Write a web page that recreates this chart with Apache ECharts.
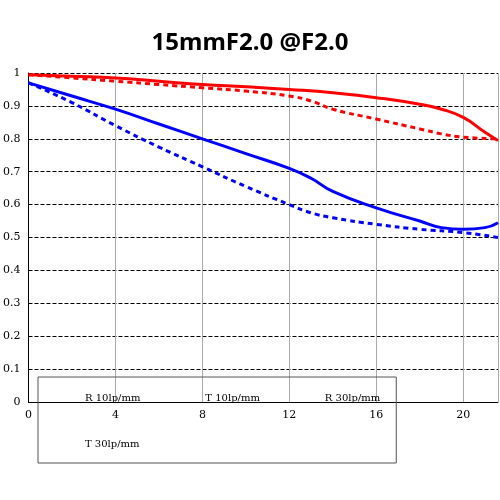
<!DOCTYPE html>
<html><head><meta charset="utf-8">
<script src="https://cdn.jsdelivr.net/npm/echarts@6/dist/echarts.min.js"></script>
<style>html,body{margin:0;padding:0;background:#fff}#c{width:500px;height:500px}</style>
</head><body><div id="c"></div>
<script>
const xR10 = [0,2,4,6,8,10,12,13,14,16,18,19,20,21.6];
const R10 = [0.995,0.985,0.975,0.965,0.955,0.945,0.93,0.915,0.89,0.86,0.83,0.815,0.805,0.80];
const xT10 = [0,2,4,6,8,10,12,14,16,18,19,20,21,21.6];
const T10 = [0.995,0.99,0.985,0.975,0.965,0.958,0.95,0.94,0.925,0.905,0.89,0.865,0.82,0.795];
const xR30 = [0,2,4,6,8,10,12,13,14,16,18,20,21.6];
const R30 = [0.97,0.91,0.84,0.775,0.715,0.655,0.60,0.575,0.56,0.54,0.525,0.515,0.50];
const xT30 = [0,2,4,6,8,10,12,13,14,16,18,19,20,21,21.6];
const T30 = [0.97,0.93,0.89,0.845,0.80,0.755,0.71,0.68,0.64,0.59,0.55,0.53,0.525,0.53,0.545];
const names = ['R 10lp/mm','T 10lp/mm','R 30lp/mm','T 30lp/mm'];
const pair = (xs,ys)=>xs.map((x,i)=>[x,ys[i]]);
const mk=(n,xs,ys,c,t)=>({name:n,type:'line',data:pair(xs,ys),smooth:true,symbol:'none',
  lineStyle:{color:c,width:3,type:t==='dash'?[5,4]:'solid'},itemStyle:{color:c}});
const ch = echarts.init(document.getElementById('c'));
ch.setOption({
  animation:false,
  title:{text:'15mmF2.0 @F2.0',left:'center',top:26,textStyle:{fontSize:24,fontWeight:'bold',color:'#000',fontFamily:'Noto Sans'}},
  grid:{left:25,right:2,top:73,bottom:98},
  legend:{bottom:37,left:38,width:427,itemWidth:26,itemGap:34,icon:'none',
    textStyle:{fontFamily:'DejaVu Serif',fontSize:10,color:'#000'},
    borderColor:'#555',borderWidth:1,padding:[14,16],
    data:names},
  xAxis:{type:'value',min:0,max:21.6,interval:4,
    axisLine:{lineStyle:{color:'#000'}},axisTick:{show:false},
    axisLabel:{fontFamily:'DejaVu Serif',fontSize:11,color:'#000',showMaxLabel:false},
    splitLine:{show:true,lineStyle:{color:'#aaa',type:'solid'}}},
  yAxis:{type:'value',min:0,max:1,interval:0.1,
    axisLine:{show:true,lineStyle:{color:'#000'}},axisTick:{show:false},
    axisLabel:{fontFamily:'DejaVu Serif',fontSize:11,color:'#000',formatter:v=>+v.toFixed(1)},
    splitLine:{show:true,lineStyle:{color:'#000',type:'dashed'}}},
  series:[
    mk(names[0],xR10,R10,'#ff0000','dash'),
    mk(names[1],xT10,T10,'#ff0000','solid'),
    mk(names[2],xR30,R30,'#0000ff','dash'),
    mk(names[3],xT30,T30,'#0000ff','solid')
  ]
});
</script></body></html>
